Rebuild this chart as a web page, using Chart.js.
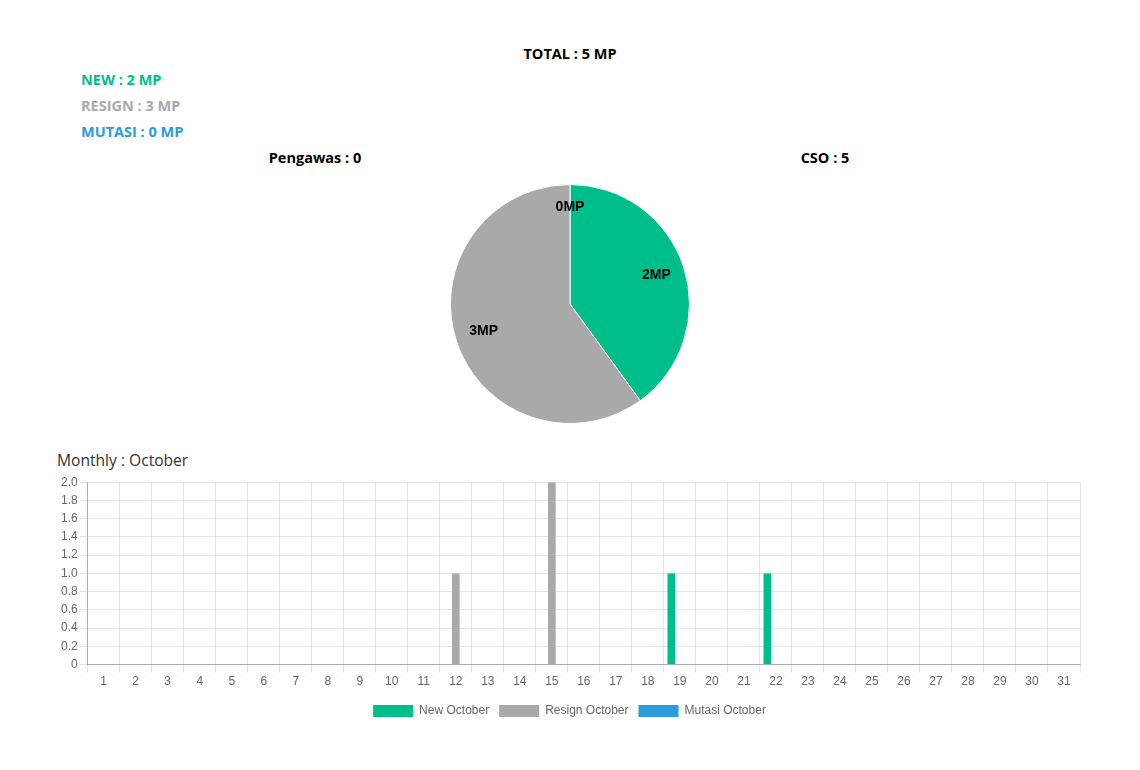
<!DOCTYPE html>
<html>
<head>
<meta charset="utf-8">
<script src="https://cdn.jsdelivr.net/npm/chart.js@4.4.0/dist/chart.umd.min.js"></script>
<style>
  body { margin: 0; background: #fff; font-family: "Open Sans", sans-serif; }
  .txt { position: absolute; font-weight: bold; font-size: 14.5px; white-space: nowrap; }
  #total { left: 0; width: 1140px; top: 44px; text-align: center; color: #000; }
  #newTxt { left: 81px; top: 70px; color: #00be8a; }
  #resignTxt { left: 81px; top: 96px; color: #a9a9a9; }
  #mutasiTxt { left: 81px; top: 122px; color: #2a9bdb; }
  #pengawas { left: 165px; width: 300px; top: 148px; text-align: center; color: #000; }
  #cso { left: 675px; width: 300px; top: 148px; text-align: center; color: #000; }
  #monthly { position: absolute; left: 57px; top: 449px; font-size: 15.6px; color: #333; }
  #pieBox { position: absolute; left: 450px; top: 184px; width: 240px; height: 240px; }
  #barBox { position: absolute; left: 59px; top: 473px; width: 1025px; height: 254px; }
</style>
</head>
<body>
<div class="txt" id="total"></div>
<div class="txt" id="newTxt"></div>
<div class="txt" id="resignTxt"></div>
<div class="txt" id="mutasiTxt"></div>
<div class="txt" id="pengawas"></div>
<div class="txt" id="cso"></div>
<div id="monthly">Monthly : October</div>
<div id="pieBox"><canvas id="pieChart"></canvas></div>
<div id="barBox"><canvas id="barChart"></canvas></div>

<script>
'use strict';

// pie data
var pieLabels = ['New', 'Resign', 'Mutasi'];
var pieValues = [2, 3, 0];
var pengawas = 0;
var cso = 5;

// monthly data (days 1..31)
var days = [];
for (var d = 1; d <= 31; d++) {
    days.push(String(d));
}
var newOctober = [0,0,0,0,0,0,0,0,0,0,0,0,0,0,0,0,0,0,1,0,0,1,0,0,0,0,0,0,0,0,0];
var resignOctober = [0,0,0,0,0,0,0,0,0,0,0,1,0,0,2,0,0,0,0,0,0,0,0,0,0,0,0,0,0,0,0];
var mutasiOctober = [0,0,0,0,0,0,0,0,0,0,0,0,0,0,0,0,0,0,0,0,0,0,0,0,0,0,0,0,0,0,0];

var green = '#00be8a';
var grey = '#a9a9a9';
var blue = '#2a9bdb';

// header texts
var total = pieValues[0] + pieValues[1] + pieValues[2];
document.getElementById('total').textContent = 'TOTAL : ' + total + ' MP';
document.getElementById('newTxt').textContent = 'NEW : ' + pieValues[0] + ' MP';
document.getElementById('resignTxt').textContent = 'RESIGN : ' + pieValues[1] + ' MP';
document.getElementById('mutasiTxt').textContent = 'MUTASI : ' + pieValues[2] + ' MP';
document.getElementById('pengawas').textContent = 'Pengawas : ' + pengawas;
document.getElementById('cso').textContent = 'CSO : ' + cso;

// draws "xMP" inside each slice
var sliceLabels = {
    id: 'sliceLabels',
    afterDatasetsDraw: function (chart) {
        var ctx = chart.ctx;
        var meta = chart.getDatasetMeta(0);
        ctx.save();
        ctx.font = 'bold 14px "Liberation Sans", Arial, sans-serif';
        ctx.fillStyle = '#000';
        ctx.textAlign = 'center';
        ctx.textBaseline = 'middle';
        for (var i = 0; i < meta.data.length; i++) {
            var arc = meta.data[i];
            var mid = (arc.startAngle + arc.endAngle) / 2;
            var r = arc.outerRadius * 0.76;
            var x = arc.x + Math.cos(mid) * r;
            var y = arc.y + Math.sin(mid) * r;
            if (chart.data.datasets[0].data[i] === 0) {
                y -= 6;
            } else {
                y -= 1;
            }
            ctx.fillText(chart.data.datasets[0].data[i] + 'MP', x, y);
        }
        ctx.restore();
    }
};

new Chart(document.getElementById('pieChart'), {
    type: 'pie',
    data: {
        labels: pieLabels,
        datasets: [{
            data: pieValues,
            backgroundColor: [green, grey, blue],
            borderColor: '#fff',
            borderWidth: 1
        }]
    },
    options: {
        responsive: true,
        maintainAspectRatio: false,
        animation: false,
        plugins: { legend: { display: false }, tooltip: { enabled: false } }
    },
    plugins: [sliceLabels]
});

var tickFont = { family: '"Liberation Sans", Arial, sans-serif', size: 12 };

new Chart(document.getElementById('barChart'), {
    type: 'bar',
    data: {
        labels: days,
        datasets: [
            { label: 'New October', data: newOctober, backgroundColor: green, borderColor: green },
            { label: 'Resign October', data: resignOctober, backgroundColor: grey, borderColor: grey },
            { label: 'Mutasi October', data: mutasiOctober, backgroundColor: blue, borderColor: blue }
        ]
    },
    options: {
        responsive: true,
        maintainAspectRatio: false,
        animation: false,
        categoryPercentage: 0.8,
        barPercentage: 0.9,
        layout: { padding: { top: 2, right: 4 } },
        scales: {
            x: {
                grid: { offset: true, color: 'rgba(0,0,0,0.1)', tickLength: 8 },
                border: { color: 'rgba(0,0,0,0.25)' },
                ticks: { color: '#666', font: tickFont, maxRotation: 0, autoSkip: false, padding: 2 },
                afterFit: function (scale) {
                    // a bit more room between day labels and legend
                    scale.height += 4;
                }
            },
            y: {
                min: 0,
                max: 2,
                grid: { color: 'rgba(0,0,0,0.1)', tickLength: 8 },
                border: { color: 'rgba(0,0,0,0.25)' },
                ticks: { stepSize: 0.2, color: '#666', font: tickFont, padding: 2 }
            }
        },
        plugins: {
            legend: {
                position: 'bottom',
                labels: { boxWidth: 40, boxHeight: 12, color: '#666', font: tickFont, padding: 10 }
            },
            tooltip: { enabled: false }
        }
    }
});
</script>
</body>
</html>
